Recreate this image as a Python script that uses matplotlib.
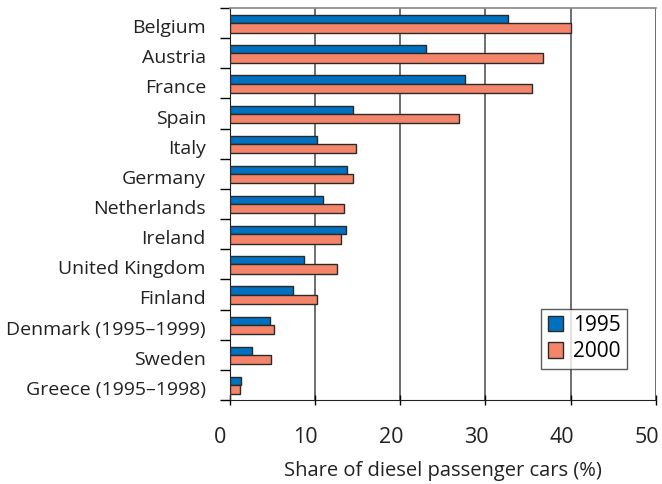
# diesel share bar chart
import numpy as np
import matplotlib.pyplot as plt
import matplotlib.transforms as mtransforms

plt.rcParams['font.family'] = ['Open Sans', 'DejaVu Sans']

countries = ["Belgium", "Austria", "France", "Spain", "Italy", "Germany",
             "Netherlands", "Ireland", "United Kingdom", "Finland",
             "Denmark (1995\u20131999)", "Sweden", "Greece (1995\u20131998)"]
share_1995 = [32.7, 23.0, 27.6, 14.5, 10.3, 13.8, 11.0, 13.6, 8.7, 7.5, 4.7, 2.6, 1.4]
share_2000 = [40.0, 36.7, 35.5, 26.9, 14.8, 14.5, 13.4, 13.1, 12.6, 10.3, 5.2, 4.9, 1.2]
x_ticks = [0, 10, 20, 30, 40, 50]

blue = '#0070C0'
orange = '#F4856A'

fig = plt.figure(figsize=(6.62, 4.84), dpi=100)
ax = fig.add_axes([0.3467, 0.1736, 0.991 - 0.3467, 0.9835 - 0.1736])

y = np.arange(len(countries))
ax.barh(y - 0.13, share_1995, height=0.27, color=blue, edgecolor='#2a2a2a',
        linewidth=1, label='1995', zorder=3)
ax.barh(y + 0.16, share_2000, height=0.31, color=orange, edgecolor='#2a2a2a',
        linewidth=1, label='2000', zorder=3)

ax.set_xlim(0, 50)
ax.set_ylim(len(countries) - 0.5, -0.5)

# vertical grid lines
for v in x_ticks[1:]:
    ax.axvline(v, color='#555555', linewidth=1.2, zorder=1)

ax.spines['top'].set_color('#888888')
ax.spines['top'].set_linewidth(1.2)
ax.spines['right'].set_visible(False)
ax.spines['left'].set_color('#222222')
ax.spines['bottom'].set_color('#222222')

ax.set_xticks(x_ticks)
ax.set_xticklabels([str(t) for t in x_ticks], fontsize=15.5, color='#222222')
ax.tick_params(axis='x', length=7, width=1, pad=16, direction='inout')
shift = mtransforms.ScaledTranslation(-9 / 100, 0, fig.dpi_scale_trans)
for lbl in ax.get_xticklabels():
    lbl.set_transform(lbl.get_transform() + shift)

# boundary ticks on y axis, labels at centres
ax.set_yticks(np.arange(len(countries) + 1) - 0.5)
ax.set_yticklabels([])
ax.tick_params(axis='y', which='major', length=7, width=1, direction='out')
ax.set_yticks(y, minor=True)
ax.set_yticklabels(countries, minor=True, fontsize=14, color='#222222')
ax.tick_params(axis='y', which='minor', length=0, pad=17)
for lbl in ax.get_yticklabels(minor=True):
    lbl.set_transform(lbl.get_transform() +
                      mtransforms.ScaledTranslation(0, -3 / 100, fig.dpi_scale_trans))

ax.set_xlabel('Share of diesel passenger cars (%)', fontsize=14.5, color='#222222',
              labelpad=9)

leg = ax.legend(loc='upper left', bbox_to_anchor=(0.707, 0.259), fontsize=15,
                frameon=True, fancybox=False, edgecolor='#333333',
                handlelength=0.75, handleheight=0.75, handletextpad=0.45,
                borderpad=0.3, labelspacing=0.25)
leg.get_frame().set_linewidth(1)

fig.savefig('out.png', dpi=100)
